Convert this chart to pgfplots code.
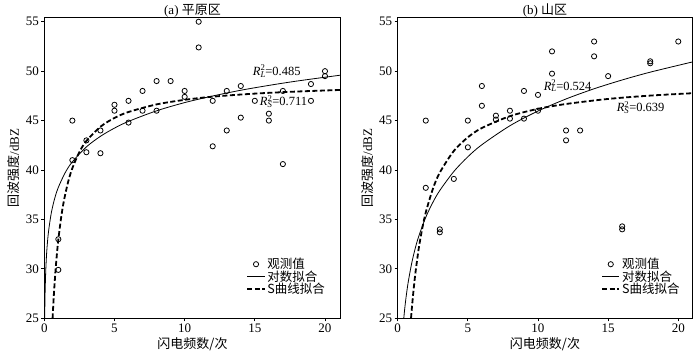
\documentclass[border=0pt]{standalone}
\usepackage{fontspec}
\setmainfont{Liberation Serif}
\newfontfamily\cjk{Noto Sans CJK SC}
\usepackage{pgfplots}
\pgfplotsset{compat=1.18}
\begin{document}
\begin{tikzpicture}
\useasboundingbox (0,0) rectangle (700pt,353pt);
\pgfplotsset{
  panel/.style={
    anchor=south west, scale only axis, height=301pt,
    xmin=0, ymin=25, ymax=55.45,
    xtick={0,5,10,15,20}, ytick={25,30,35,40,45,50,55},
    tick align=outside, xtick pos=bottom, ytick pos=left,
    major tick length=3pt,
    axis line style={line width=1.1pt},
    tick style={line width=0.8pt, black},
    /pgf/number format/assume math mode=true,
    tick label style={font=\fontsize{13}{15}\selectfont},
    xticklabel style={yshift=1pt},
    yticklabel style={xshift=1pt},
    label style={font=\fontsize{13}{15}\selectfont},
    title style={font=\fontsize{13}{15}\selectfont, yshift=-10pt},
    xlabel={{\cjk 闪电频数/次}},
    xlabel style={yshift=2pt},
    ylabel={{\cjk 回波强度}/dBZ},
    ylabel style={yshift=-1pt},
    legend cell align=left,
    legend style={draw=none, fill=none, inner sep=0pt, row sep=-3.5pt,
      font=\fontsize{12.5}{13}\selectfont\cjk, anchor=north west},
  },
  obs/.style={only marks, mark=o, mark size=2.6pt, black, line width=0.8pt},
  logf/.style={black, line width=0.8pt, smooth, no marks},
  sf/.style={black, line width=1.8pt, dash pattern=on 5pt off 2.5pt, smooth, no marks},
}
% ---------- (a) ----------
\begin{axis}[panel, at={(44.3pt,34.7pt)}, width=296.4pt, xmax=21.12,
  title={(a) {\cjk 平原区}},
  legend style={at={(axis cs:14.4,31.3)}}]
\addplot[obs] coordinates {
(1,33.0) (1,29.9) (2,45) (2,41) (3,43.0) (3,41.8) (4,44) (4,41.7)
(5,46.6) (5,46.0) (6,47.0) (6,44.8) (7,48.0) (7,46.0) (8,49.0) (8,46.0)
(9,49.0) (10,48.0) (10,47.4) (11,55) (11,52.4) (12,47.0) (12,42.4)
(13,48.0) (13,44.0) (14,48.5) (14,45.3) (15,47.0) (16,45.7) (16,45.0)
(17,48.0) (17,40.6) (19,48.7) (19,47.0) (20,50.0) (20,49.5)};
\addlegendentry{观测值}
\addplot[logf] coordinates {
(0.0284,25.0) (0.04,26.27) (0.06,27.79) (0.1,29.68) (0.15,31.19) (0.2,32.26)
(0.3,33.77) (0.5,35.67) (0.75,37.18) (1,38.25) (1.5,39.76) (2,40.83)
(3,42.34) (4,43.41) (5,44.24) (6,44.92) (8,45.99) (10,46.82) (12,47.49)
(14,48.07) (16,48.56) (18,49.00) (21.12,49.60)};
\addlegendentry{对数拟合}
\addplot[sf] coordinates {
(0.59,25.00) (0.65,26.61) (0.7,27.80) (0.8,29.84) (0.9,31.53) (1,32.95)
(1.2,35.20) (1.4,36.91) (1.7,38.81) (2,40.19) (2.5,41.82) (3,42.94)
(4,44.38) (5,45.27) (6,45.87) (8,46.64) (10,47.10) (12,47.42) (15,47.73)
(18,47.94) (21.12,48.10)};
\addlegendentry{S曲线拟合}
\node[anchor=west, inner sep=0pt, font=\fontsize{12.5}{14}\selectfont] at (axis cs:14.85,50.0)
  {\textit{R}\rlap{\textsubscript{\textit{L}}}\textsuperscript{2}=0.485};
\node[anchor=west, inner sep=0pt, font=\fontsize{12.5}{14}\selectfont] at (axis cs:15.35,46.9)
  {\textit{R}\rlap{\textsubscript{\textit{S}}}\textsuperscript{2}=0.711};
\end{axis}
% ---------- (b) ----------
\begin{axis}[panel, at={(397.7pt,34.7pt)}, width=294.6pt, xmax=21,
  title={(b) {\cjk 山区}},
  legend style={at={(axis cs:14.5,31.3)}}]
\addplot[obs] coordinates {
(2,45.0) (2,38.2) (3,34.0) (3,33.7) (4,39.1) (5,45) (5,42.3) (6,48.5) (6,46.5)
(7,45.5) (7,45.1) (8,46.0) (8,45.2) (9,48.0) (9,45.2) (10,47.6) (10,46.0)
(11,52.0) (11,49.75) (12,44.0) (12,43.0) (13,44.0) (14,53.0) (14,51.5)
(15,49.5) (16,34.3) (16,34.0) (18,51.0) (18,50.8) (20,53.0)};
\addlegendentry{观测值}
\addplot[logf] coordinates {
(0.433,25.0) (0.5,25.96) (0.6,27.18) (0.75,28.67) (1,30.59) (1.25,32.08)
(1.5,33.30) (2,35.22) (2.5,36.71) (3,37.93) (4,39.85) (5,41.34) (6,42.56)
(8,44.48) (10,45.97) (12,47.19) (14,48.22) (16,49.11) (18,49.90) (21,50.93)};
\addlegendentry{对数拟合}
\addplot[sf] coordinates {
(0.95,25.01) (1,25.87) (1.1,27.43) (1.25,29.43) (1.5,32.07) (1.75,34.09)
(2,35.70) (2.5,38.07) (3,39.74) (4,41.93) (5,43.31) (6,44.25) (8,45.45)
(10,46.19) (12,46.68) (15,47.19) (18,47.53) (21,47.77)};
\addlegendentry{S曲线拟合}
\node[anchor=west, inner sep=0pt, font=\fontsize{12.5}{14}\selectfont] at (axis cs:10.4,48.5)
  {\textit{R}\rlap{\textsubscript{\textit{L}}}\textsuperscript{2}=0.524};
\node[anchor=west, inner sep=0pt, font=\fontsize{12.5}{14}\selectfont] at (axis cs:15.6,46.35)
  {\textit{R}\rlap{\textsubscript{\textit{S}}}\textsuperscript{2}=0.639};
\end{axis}
\end{tikzpicture}
\end{document}
